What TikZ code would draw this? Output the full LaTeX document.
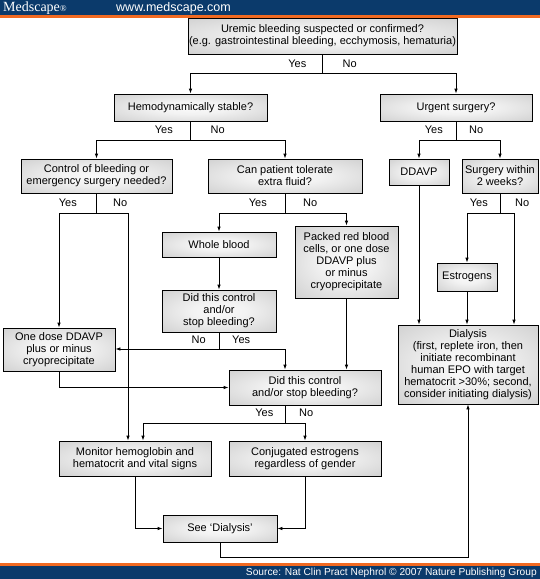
\documentclass[tikz,border=0pt]{standalone}
\usepackage{fontspec}
\setmainfont{Liberation Sans}
\newfontfamily\serifhead{Liberation Serif}
\usetikzlibrary{arrows.meta}
\pgfdeclareradialshading{boxshade}{\pgfpoint{0bp}{0bp}}{color(0bp)=(white!98!black); color(12bp)=(white!95!black); color(50bp)=(white!74!black); color(71bp)=(white!69!black)}
\definecolor{mblue}{HTML}{0B3A6B}
\definecolor{morange}{HTML}{F26A21}
\begin{document}
\begin{tikzpicture}[x=1pt,y=-1pt,
  box/.style={draw=black, line width=0.8pt, shading=boxshade, inner sep=0pt, align=center,
    font=\fontsize{11}{12}\selectfont},
  ln/.style={line width=0.8pt},
  arr/.style={ln, -{Latex[length=5pt,width=3.5pt]}},
  lbl/.style={inner sep=0pt, text height=7.8pt, text depth=0pt, font=\fontsize{11}{12}\selectfont}]
\useasboundingbox (0,0) rectangle (540,579);
% header and footer
\fill[mblue] (0,0) rectangle (540,14.5);
\fill[morange] (0,14.5) rectangle (540,17.5);
\node[anchor=base west, text=white, inner sep=0pt, font=\serifhead\fontsize{14}{14}\selectfont] (logo) at (3,11.5) {Medscape{\fontsize{9}{9}\selectfont ®}};
\node[anchor=base west, text=white, inner sep=0pt, font=\fontsize{12.5}{12.5}\selectfont] (url) at (116,11.5) {www.medscape.com};
\fill[morange] (0,562.5) rectangle (540,565.5);
\fill[mblue] (0,565.5) rectangle (540,579);
\node[anchor=base east, text=white, inner sep=0pt, font=\fontsize{10.2}{10.2}\selectfont] (src) at (537,575.5) {Source: Nat Clin Pract Nephrol © 2007 Nature Publishing Group};
% boxes
\node[box, minimum width=269pt, minimum height=36pt] (top) at (322.5,36) {Uremic bleeding suspected or confirmed?\\(e.g. gastrointestinal bleeding, ecchymosis, hematuria)};
\node[box, minimum width=153pt, minimum height=27pt] (hem) at (190.5,107.5) {Hemodynamically stable?};
\node[box, minimum width=152pt, minimum height=27pt] (urg) at (456,107.5) {Urgent surgery?};
\node[box, minimum width=151pt, minimum height=34pt] (ctrl) at (96.5,176) {Control of bleeding or\\emergency surgery needed?};
\node[box, minimum width=154pt, minimum height=34pt] (tol) at (285,176) {Can patient tolerate\\extra fluid?};
\node[box, minimum width=60pt, minimum height=26pt] (ddavp) at (419,172) {DDAVP};
\node[box, minimum width=76pt, minimum height=34pt] (surg2) at (500,176) {Surgery within\\2 weeks?};
\node[box, minimum width=114pt, minimum height=25pt] (whole) at (219,244.5) {Whole blood};
\node[box, minimum width=114pt, minimum height=42pt] (did1) at (219,311) {Did this control\\and/or\\stop bleeding?};
\node[box, minimum width=103pt, minimum height=72pt] (packed) at (346.5,262) {Packed red blood\\cells, or one dose\\DDAVP plus\\or minus\\cryoprecipitate};
\node[box, minimum width=112pt, minimum height=43pt] (onedose) at (59,349.5) {One dose DDAVP\\plus or minus\\cryoprecipitate};
\node[box, minimum width=152pt, minimum height=35pt] (did2) at (305,387.5) {Did this control\\and/or stop bleeding?};
\node[box, minimum width=60pt, minimum height=28pt] (estrog) at (467,277) {Estrogens};
\node[box, minimum width=140pt, minimum height=79pt] (dial) at (468,364.5) {Dialysis\\(first, replete iron, then\\initiate recombinant\\human EPO with target\\hematocrit >30\%; second,\\consider initiating dialysis)};
\node[box, minimum width=152pt, minimum height=35pt] (monitor) at (135,458.5) {Monitor hemoglobin and\\hematocrit and vital signs};
\node[box, minimum width=152pt, minimum height=35pt] (conj) at (305,458.5) {Conjugated estrogens\\regardless of gender};
\node[box, minimum width=114pt, minimum height=27pt] (see) at (220,528.5) {See ‘Dialysis’};
% labels
\node[lbl, anchor=east] (y1) at (306.5,64) {Yes};
\node[lbl, anchor=west] (n1) at (342.5,64) {No};
\node[lbl, anchor=east] (y2) at (173,130) {Yes};
\node[lbl, anchor=west] (n2) at (210.5,130) {No};
\node[lbl, anchor=east] (y3) at (443,130) {Yes};
\node[lbl, anchor=west] (n3) at (469,130) {No};
\node[lbl, anchor=east] (y4) at (77,203) {Yes};
\node[lbl, anchor=west] (n4) at (113,203) {No};
\node[lbl, anchor=east] (y5) at (267,203) {Yes};
\node[lbl, anchor=west] (n5) at (303,203) {No};
\node[lbl, anchor=east] (y6) at (488,203) {Yes};
\node[lbl, anchor=west] (n6) at (515,203) {No};
\node[lbl, anchor=east] (n7) at (206,340) {No};
\node[lbl, anchor=west] (y7) at (232,340) {Yes};
\node[lbl, anchor=east] (y8) at (273.5,413) {Yes};
\node[lbl, anchor=west] (n8) at (299,413) {No};
% connectors
\coordinate (j1) at (322.5,73);
\draw[ln] (top.south) -- (j1);
\draw[arr] (j1) -| (hem.north);
\draw[arr] (j1) -| (urg.north);
\coordinate (j2) at (190.5,140);
\draw[ln] (hem.south) -- (j2);
\draw[arr] (j2) -| (ctrl.north);
\draw[arr] (j2) -| (tol.north);
\coordinate (j3) at (456,140);
\draw[ln] (urg.south) -- (j3);
\draw[arr] (j3) -| (ddavp.north);
\draw[arr] (j3) -| (surg2.north);
\coordinate (j4) at (96.5,213);
\coordinate (j4b) at (128,213);
\draw[ln] (ctrl.south) -- (j4);
\draw[arr] (j4) -| (onedose.north);
\draw[ln] (j4) -- (j4b);
\draw[arr] (j4b) -- (j4b |- monitor.north);
\coordinate (j5) at (285,213);
\draw[ln] (tol.south) -- (j5);
\draw[arr] (j5) -| (whole.north);
\draw[arr] (j5) -| (packed.north);
\coordinate (j6) at (500,213);
\coordinate (j6b) at (514,213);
\draw[ln] (surg2.south) -- (j6);
\draw[arr] (j6) -| (estrog.north);
\draw[ln] (j6) -- (j6b);
\draw[arr] (j6b) -- (j6b |- dial.north);
\draw[arr] (whole) -- (did1);
\coordinate (j7) at (219,349);
\coordinate (j7b) at (285,349);
\draw[ln] (did1.south) -- (j7);
\draw[arr] (j7) -- (j7 -| onedose.east);
\draw[arr] (j7) -- (j7b) -- (j7b |- did2.north);
\draw[arr] (onedose.south) |- (did2.west);
\draw[arr] (packed.south) -- (packed.south |- did2.north);
\coordinate (j8) at (285,423);
\coordinate (j8b) at (143,423);
\draw[ln] (j8 |- did2.south) -- (j8);
\draw[arr] (j8) -| (conj.north);
\draw[arr] (j8) -- (j8b) -- (j8b |- monitor.north);
\draw[arr] (monitor.south) |- (see.west);
\draw[arr] (conj.south) |- (see.east);
\coordinate (j9) at (220,557);
\draw[arr] (see.south) -- (j9) -| (dial.south);
\draw[arr] (ddavp.south) -- (ddavp.south |- dial.north);
\draw[arr] (estrog.south) -- (estrog.south |- dial.north);
\end{tikzpicture}
\end{document}
